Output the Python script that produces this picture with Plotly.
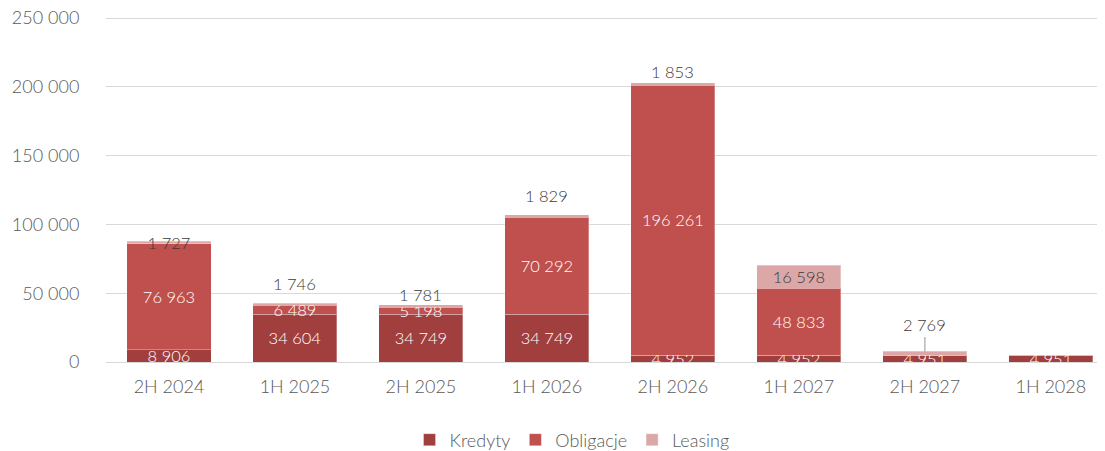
import plotly.graph_objects as go

categories = ["2H 2024", "1H 2025", "2H 2025", "1H 2026", "2H 2026", "1H 2027", "2H 2027", "1H 2028"]
kredyty = [8906, 34604, 34749, 34749, 4952, 4952, 4951, 4951]
obligacje = [76963, 6489, 5198, 70292, 196261, 48833, 0, 0]
leasing = [1727, 1746, 1781, 1829, 1853, 16598, 2769, 0]
y_ticks = [0, 50000, 100000, 150000, 200000, 250000]

# how each leasing label is placed (style only)
leasing_inside = [True, False, False, False, False, True, False, False]
leasing_shift = [0, 19, 10, 19, 11, 0, 26, 0]
leasing_leader = [False, False, False, False, False, False, True, False]

def fmt(v):
    return f"{v:,}".replace(",", " ")

FONT = "Lato Light, Lato"
W = 300
C_KRED = "#A03F3E"
C_OBL = "#C0504D"
C_LEAS = "#DBA8A7"
TXT = "#595959"
LBL = "#3A3A3A"

fig = go.Figure()

def add_bar(name, vals, color, textcolor, texts):
    fig.add_trace(go.Bar(
        name=name, x=categories, y=vals,
        marker=dict(color=color, line=dict(color="rgba(255,255,255,0.3)", width=1)),
        text=texts, textposition="inside", insidetextanchor="middle",
        textangle=0, constraintext="none",
        textfont=dict(family=FONT, size=16.5, color=textcolor, weight=W),
        cliponaxis=True, hoverinfo="skip",
    ))

add_bar("Kredyty", kredyty, C_KRED, "white", [fmt(v) if v else "" for v in kredyty])
add_bar("Obligacje", obligacje, C_OBL, "white", [fmt(v) if v else "" for v in obligacje])
add_bar("Leasing", leasing, C_LEAS, LBL,
        [fmt(v) if (v and ins) else "" for v, ins in zip(leasing, leasing_inside)])

for i, cat in enumerate(categories):
    v = leasing[i]
    if not v or leasing_inside[i]:
        continue
    total = kredyty[i] + obligacje[i] + leasing[i]
    if leasing_leader[i]:
        fig.add_annotation(x=cat, y=total, text=fmt(v), showarrow=True,
                           ax=0, ay=-leasing_shift[i], arrowhead=0, arrowwidth=1.2,
                           arrowcolor="#A6A6A6", standoff=0,
                           font=dict(family=FONT, size=16.5, color=LBL, weight=W))
    else:
        fig.add_annotation(x=cat, y=total, text=fmt(v), showarrow=False,
                           yanchor="middle", yshift=leasing_shift[i],
                           font=dict(family=FONT, size=16.5, color=LBL, weight=W))

fig.update_layout(
    barmode="stack",
    bargap=0.333,
    width=1097, height=443,
    margin=dict(l=98, r=0, t=8, b=89, autoexpand=False),
    paper_bgcolor="white", plot_bgcolor="white",
    font=dict(family=FONT, size=18, color=TXT, weight=W),
    showlegend=True,
    legend=dict(orientation="h", x=0.4665, xanchor="center", y=-0.2254, yanchor="middle",
                font=dict(family=FONT, size=18, color=TXT, weight=W), traceorder="normal",
                itemwidth=30),
)
fig.update_xaxes(
    type="category", range=[-0.5, 7.43], showgrid=False, showline=False,
    ticks="outside", ticklen=8, tickcolor="rgba(0,0,0,0)",
    tickfont=dict(family=FONT, size=18, color=TXT, weight=W), fixedrange=True,
    automargin=False,
)
fig.update_yaxes(
    range=[0, 251500], tickvals=y_ticks, ticktext=[fmt(v) for v in y_ticks],
    showgrid=True, gridcolor="#D9D9D9", gridwidth=1.3,
    zeroline=True, zerolinecolor="#D9D9D9", zerolinewidth=1.3,
    ticks="outside", ticklen=22, tickcolor="rgba(0,0,0,0)",
    tickfont=dict(family=FONT, size=18, color=TXT, weight=W), fixedrange=True,
    automargin=False, ticklabeloverflow="allow",
)

fig.write_html("out.html")
